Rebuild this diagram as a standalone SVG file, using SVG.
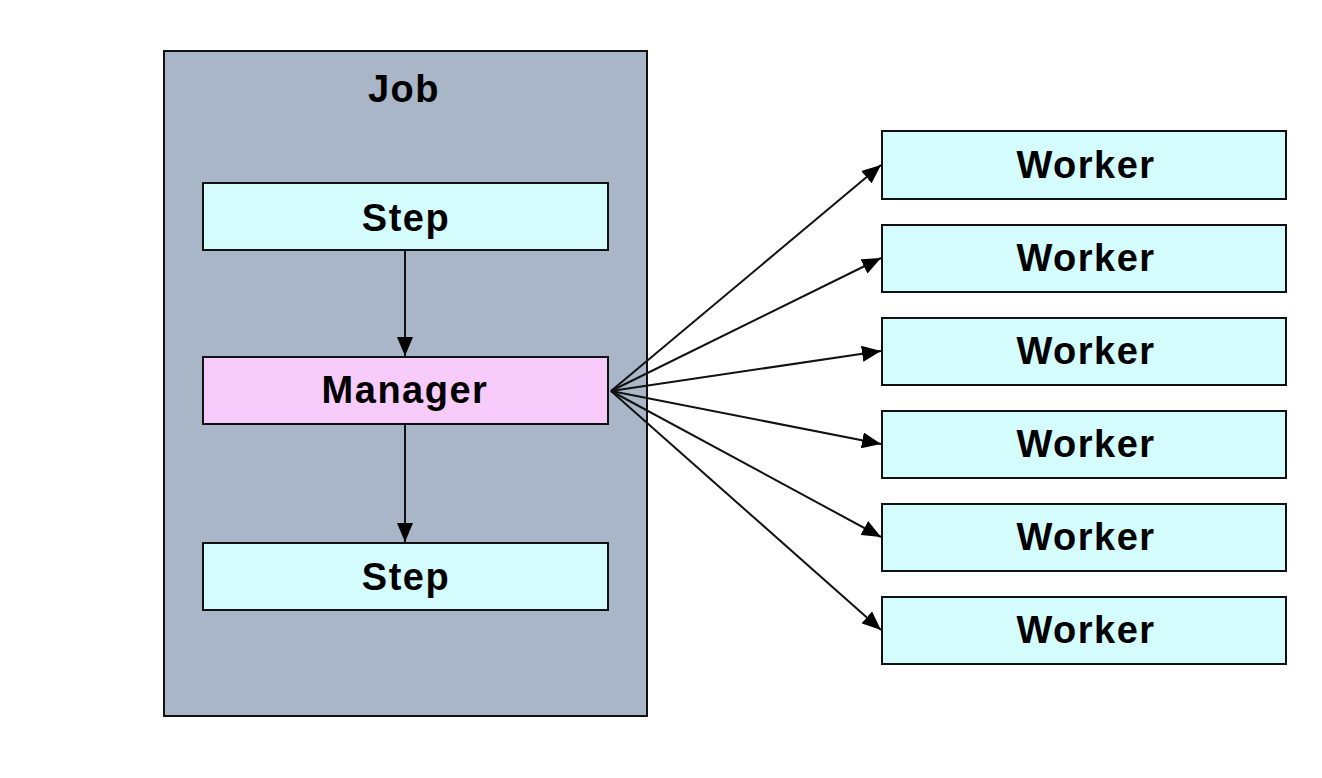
<svg xmlns="http://www.w3.org/2000/svg" width="1322" height="778" viewBox="0 0 1322 778">
<style>
.box{stroke:#111;stroke-width:2}
.job{fill:#a8b6c8}
.cyan{fill:#d4fcfc}
.pink{fill:#f7ccfa}
.lbl{font-family:"Liberation Sans",Arial,sans-serif;font-weight:bold;font-size:38px;letter-spacing:1.5px;fill:#000;text-anchor:middle}
.conn line{stroke:#111;stroke-width:2;marker-end:url(#ah)}
</style>
<defs>
<marker id="ah" markerUnits="userSpaceOnUse" markerWidth="20" markerHeight="16" refX="19" refY="8" orient="auto">
<path d="M0,0 L19,8 L0,16 Z" fill="#000"/>
</marker>
</defs>
<rect width="1322" height="778" fill="#fff"/>
<g id="job">
<rect class="box job" x="164" y="51" width="483" height="665"/>
<text class="lbl" x="404" y="102">Job</text>
</g>
<g id="step1">
<rect class="box cyan" x="203" y="183" width="405" height="67"/>
<text class="lbl" x="406" y="231">Step</text>
</g>
<g id="manager">
<rect class="box pink" x="203" y="357" width="405" height="67"/>
<text class="lbl" x="405" y="403">Manager</text>
</g>
<g id="step2">
<rect class="box cyan" x="203" y="543" width="405" height="67"/>
<text class="lbl" x="406" y="590">Step</text>
</g>
<g id="worker1"><rect class="box cyan" x="882" y="131" width="404" height="68"/><text class="lbl" x="1086" y="178">Worker</text></g>
<g id="worker2"><rect class="box cyan" x="882" y="225" width="404" height="67"/><text class="lbl" x="1086" y="271">Worker</text></g>
<g id="worker3"><rect class="box cyan" x="882" y="318" width="404" height="67"/><text class="lbl" x="1086" y="364">Worker</text></g>
<g id="worker4"><rect class="box cyan" x="882" y="411" width="404" height="67"/><text class="lbl" x="1086" y="457">Worker</text></g>
<g id="worker5"><rect class="box cyan" x="882" y="504" width="404" height="67"/><text class="lbl" x="1086" y="550">Worker</text></g>
<g id="worker6"><rect class="box cyan" x="882" y="597" width="404" height="67"/><text class="lbl" x="1086" y="643">Worker</text></g>
<g id="connectors" class="conn">
<line x1="405" y1="251" x2="405" y2="356"/>
<line x1="405" y1="425" x2="405" y2="542"/>
<line x1="611" y1="391" x2="881" y2="165"/>
<line x1="611" y1="391" x2="881" y2="258"/>
<line x1="611" y1="391" x2="881" y2="351"/>
<line x1="611" y1="391" x2="881" y2="444"/>
<line x1="611" y1="391" x2="881" y2="537"/>
<line x1="611" y1="391" x2="881" y2="630"/>
</g>
</svg>
